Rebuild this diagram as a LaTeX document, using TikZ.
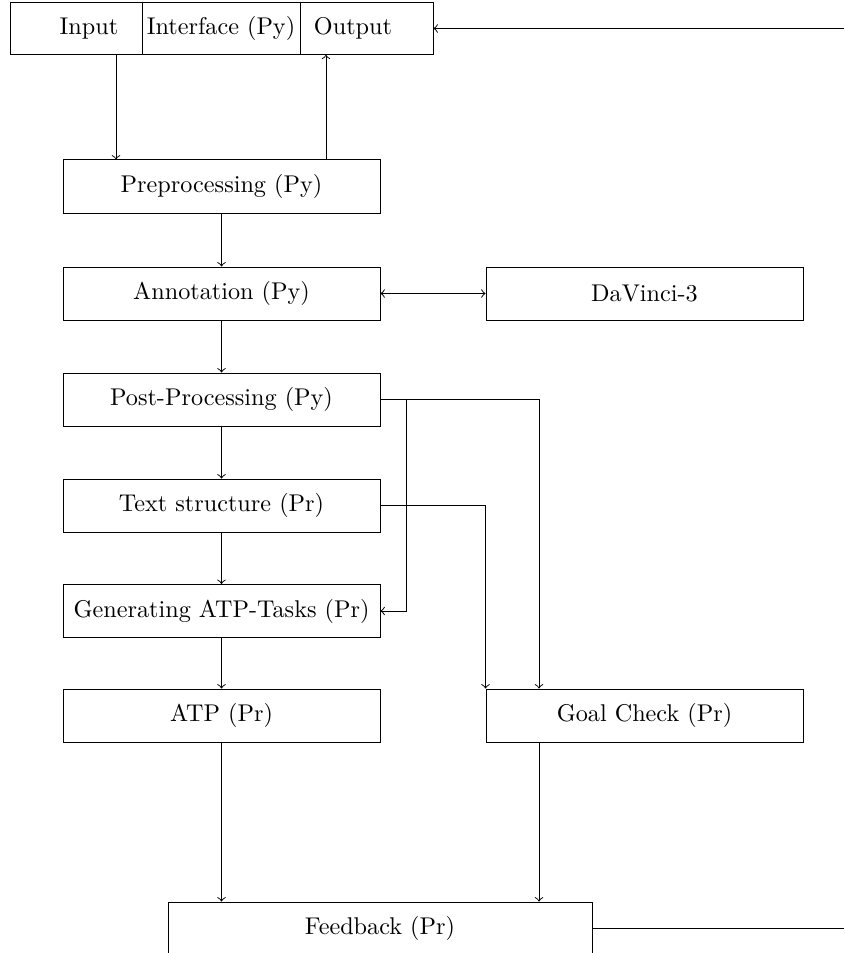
\documentclass[tikz,border=0pt]{standalone}
\begin{document}
\begin{tikzpicture}[x=0.413pt,y=-0.413pt,
  box/.style={draw, inner sep=0pt, minimum width=130.9pt, minimum height=21.9pt},
  cell/.style={draw, inner sep=0pt, minimum height=21.3pt},
  lbl/.style={inner sep=0pt},
  >=to]
\useasboundingbox (0,0) rectangle (844,953);
\clip (0,0) rectangle (844,953);
% top interface box
\node[cell, minimum width=54.516pt] (cin) at (76,28.5) {};
\node[cell, minimum width=65.254pt] (cif) at (221,28.5) {};
\node[cell, minimum width=54.929pt] (cout) at (366.5,28.5) {};
\node[lbl] (tin) at (89,28.5) {Input};
\node[lbl] (tif) at (221,28.5) {Interface (Py)};
\node[lbl] (tout) at (353,28.5) {Output};
% boxes
\node[box] (pre) at (221.5,186.5) {Preprocessing (Py)};
\node[box] (ann) at (221.5,293.5) {Annotation (Py)};
\node[box] (dv) at (644.5,293.5) {DaVinci-3};
\node[box] (post) at (221.5,399.5) {Post-Processing (Py)};
\node[box] (txt) at (221.5,505.5) {Text structure (Pr)};
\node[box] (gen) at (221.5,611) {Generating ATP-Tasks (Pr)};
\node[box] (atp) at (221.5,715.5) {ATP (Pr)};
\node[box] (goal) at (644.5,715.5) {Goal Check (Pr)};
\node[box, minimum width=175.1pt] (fb) at (380,928.5) {Feedback (Pr)};
% helper coordinates
\coordinate (xin) at (116,0);
\coordinate (xout) at (326,0);
\coordinate (rin) at (844,28.5);
\coordinate (xl) at (406,0);
\coordinate (xg1) at (539,0);
\coordinate (rout) at (844,928.5);
% connectors
\draw[->] (cin.south -| xin) -- (pre.north -| xin);
\draw[->] (pre.north -| xout) -- (cout.south -| xout);
\draw[->] (rin) -- (cout.east);
\draw[->] (pre) -- (ann);
\draw[<->] (ann) -- (dv);
\draw[->] (ann) -- (post);
\draw[->] (post) -- (txt);
\draw[->] (txt) -- (gen);
\draw[->] (gen) -- (atp);
\draw[->] (post.east) -| (goal.north -| xg1);
\draw[->] (post.east) -- (post.east -| xl) -- (gen.east -| xl) -- (gen.east);
\draw[->] (txt.east) -| (goal.north west);
\draw[->] (atp) -- (atp |- fb.north);
\draw[->] (goal.south -| xg1) -- (fb.north -| xg1);
\draw (fb.east) -- (rout);
\end{tikzpicture}
\end{document}
